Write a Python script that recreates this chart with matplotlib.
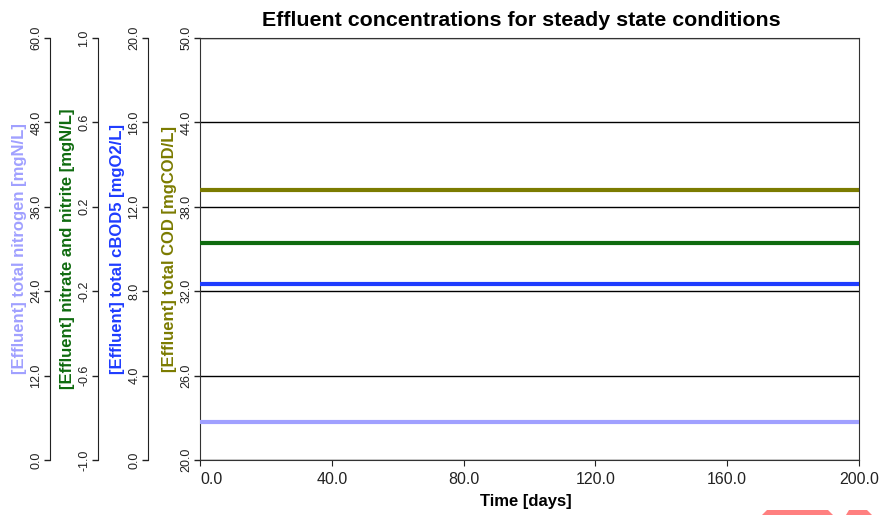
import numpy as np
import matplotlib.pyplot as plt
from matplotlib.patches import Polygon

plt.rcParams['font.family'] = ['Liberation Sans', 'DejaVu Sans']

# steady state -> flat lines over the simulated period
time_days = [0.0, 200.0]
total_cod = [39.2, 39.2]          # mgCOD/L
nitrate_nitrite = [0.03, 0.03]    # mgN/L
total_cbod5 = [8.35, 8.35]        # mgO2/L
total_nitrogen = [5.4, 5.4]       # mgN/L

cod_ticks = [20.0, 26.0, 32.0, 38.0, 44.0, 50.0]
no3_ticks = [-1.0, -0.6, -0.2, 0.2, 0.6, 1.0]
bod_ticks = [0.0, 4.0, 8.0, 12.0, 16.0, 20.0]
tn_ticks = [0.0, 12.0, 24.0, 36.0, 48.0, 60.0]
x_ticks = [0.0, 40.0, 80.0, 120.0, 160.0, 200.0]

c_cod = '#7b7b00'
c_no3 = '#0f6b0f'
c_bod = '#1f3cff'
c_tn = '#a0a0ff'

W, H = 884, 515
fig = plt.figure(figsize=(W / 100, H / 100), dpi=100)
left, right, top, bottom = 200, 859, 38, 460
ax = fig.add_axes([left / W, (H - bottom) / H, (right - left) / W, (bottom - top) / H])
frac = lambda px: (px - left) / (right - left)


def style_axis(a, ticks, label, color, pos=None):
    if pos is not None:
        a.yaxis.set_ticks_position('left')
        a.yaxis.set_label_position('left')
        for s in ['top', 'right', 'bottom']:
            a.spines[s].set_visible(False)
        a.spines['left'].set_visible(True)
        a.spines['left'].set_position(('axes', pos))
        a.patch.set_visible(False)
    a.spines['left'].set_color('#222222')
    a.set_ylim(ticks[0], ticks[-1])
    a.set_yticks(ticks)
    a.set_yticklabels([f'{t:.1f}' for t in ticks])
    a.tick_params(axis='y', direction='out', length=4, width=1, labelsize=9,
                  pad=1.5, colors='#222222', labelrotation=90)
    for lbl in a.get_yticklabels():
        lbl.set_va('center')
    a.set_ylabel(label, color=color, fontsize=12, fontweight='bold', labelpad=2.5)


# main axis: COD
ax.plot(time_days, total_cod, color=c_cod, lw=3, zorder=5)
style_axis(ax, cod_ticks, '[Effluent] total COD [mgCOD/L]', c_cod)
ax.set_xlim(x_ticks[0], x_ticks[-1])
ax.set_xticks(x_ticks)
ax.set_xticklabels([f'{t:.1f}' for t in x_ticks])
ax.tick_params(axis='x', direction='out', length=4, labelsize=11.5, pad=5, colors='#222222')
ax.get_xticklabels()[0].set_ha('left')
ax.set_xlabel('Time [days]', fontsize=12, fontweight='bold', labelpad=4.5)
ax.xaxis.label.set_x(0.494)
ax.set_title('Effluent concentrations for steady state conditions', fontsize=15.4,
             fontweight='bold', pad=9, x=0.488)
ax.grid(axis='y', color='black', lw=1)
for s in ax.spines.values():
    s.set_color('#333333')

ax_bod = ax.twinx()
ax_bod.plot(time_days, total_cbod5, color=c_bod, lw=3, zorder=5)
style_axis(ax_bod, bod_ticks, '[Effluent] total cBOD5 [mgO2/L]', c_bod, pos=frac(148))

ax_no3 = ax.twinx()
ax_no3.plot(time_days, nitrate_nitrite, color=c_no3, lw=3, zorder=5)
style_axis(ax_no3, no3_ticks, '[Effluent] nitrate and nitrite [mgN/L]', c_no3, pos=frac(98))

ax_tn = ax.twinx()
ax_tn.plot(time_days, total_nitrogen, color=c_tn, lw=3, zorder=5)
style_axis(ax_tn, tn_ticks, '[Effluent] total nitrogen [mgN/L]', c_tn, pos=frac(50))

# pale red shapes peeking in at the bottom edge of the screenshot
for pts in ([(762, 515), (767, 510), (828, 510), (833, 515)],
            [(849, 510), (867, 510), (872, 515), (846, 515)]):
    fig.patches.append(Polygon([(x / W, 1 - y / H) for x, y in pts], closed=True,
                               transform=fig.transFigure, facecolor='#ff8080',
                               edgecolor='none'))

fig.savefig('out.png', dpi=100)
